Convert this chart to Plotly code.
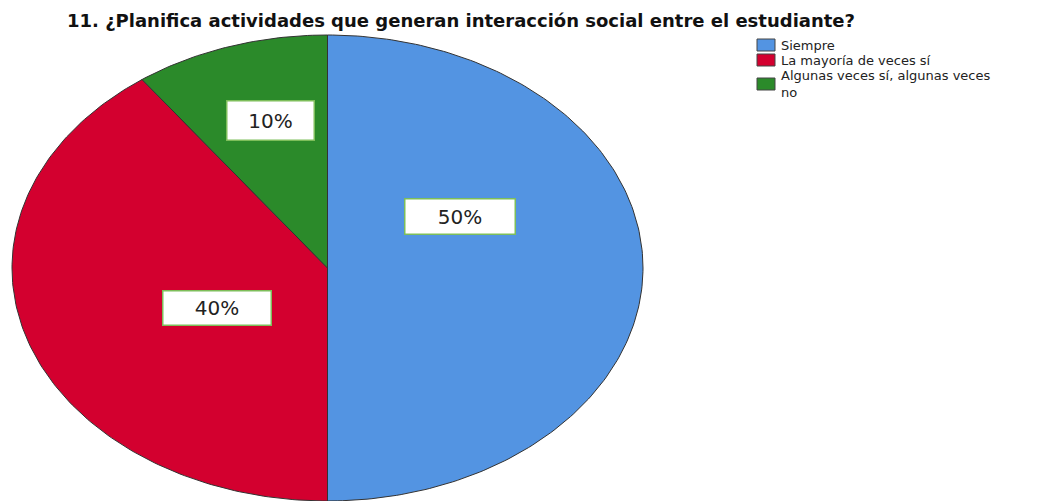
import math
import plotly.graph_objects as go

# ---- data ----
categories = ["Siempre", "La mayoría de veces sí", "Algunas veces sí, algunas veces<br>no"]
values = [50, 40, 10]
labels = ["50%", "40%", "10%"]
title_text = "11. ¿Planifica actividades que generan interacción social entre el estudiante?"

# ---- style ----
colors = ["#5394E2", "#D3002F", "#2B8A2A"]
W, H = 1038, 501
OFF = 8  # page body margin
cx, cy, rx, ry = 327.5, 268, 315.5, 233
# label placement (angle offset deg, radius fraction, box w, box h)
label_place = [(-28, 0.475, 111, 36), (-8, 0.388, 109, 35), (2, 0.66, 88, 40)]
legend_rows = [45, 60, 84]       # square centre y
legend_text_y = [45, 60, 84]

fig = go.Figure()
total = sum(values)
start = 0.0
for i, (cat, v) in enumerate(zip(categories, values)):
    a0 = start / total * 2 * math.pi
    a1 = (start + v) / total * 2 * math.pi
    n = max(int(v * 4), 8)
    xs, ys = [cx], [cy]
    for k in range(n + 1):
        t = a0 + (a1 - a0) * k / n
        xs.append(cx + rx * math.sin(t))
        ys.append(cy - ry * math.cos(t))
    xs.append(cx)
    ys.append(cy)
    fig.add_trace(go.Scatter(x=xs, y=ys, fill="toself", fillcolor=colors[i], mode="lines",
                             line=dict(color="#333333", width=1), showlegend=False,
                             hoverinfo="skip"))
    ang, rf, bw, bh = label_place[i]
    mid = (a0 + a1) / 2 + math.radians(ang)
    fig.add_annotation(x=cx + rf * rx * math.sin(mid), y=cy - rf * ry * math.cos(mid),
                       text=labels[i], showarrow=False, bgcolor="white",
                       bordercolor="#7DBE5A", borderwidth=1.5, width=bw - 4, height=bh - 4,
                       font=dict(family="DejaVu Sans", size=20, color="#222"))
    start += v

# legend drawn manually
for i, cat in enumerate(categories):
    yc = legend_rows[i]
    fig.add_shape(type="rect", x0=757, x1=775, y0=yc - 6, y1=yc + 6,
                  fillcolor=colors[i], line=dict(color="#444", width=1))
    fig.add_annotation(x=779, y=legend_text_y[i], text=cat, showarrow=False,
                       xanchor="left", yanchor="middle", align="left",
                       font=dict(family="DejaVu Sans", size=13, color="#222"))

fig.add_annotation(x=65, y=20, text="<b>" + title_text + "</b>", showarrow=False,
                   xanchor="left", yanchor="middle",
                   font=dict(family="DejaVu Sans", size=18, color="#111"))

fig.update_layout(
    width=W, height=H, margin=dict(l=0, r=0, t=0, b=0),
    plot_bgcolor="white", paper_bgcolor="white", showlegend=False,
    xaxis=dict(range=[OFF, W + OFF], visible=False, fixedrange=True),
    yaxis=dict(range=[H + OFF, OFF], visible=False, fixedrange=True),
)
fig.write_html("out.html")
